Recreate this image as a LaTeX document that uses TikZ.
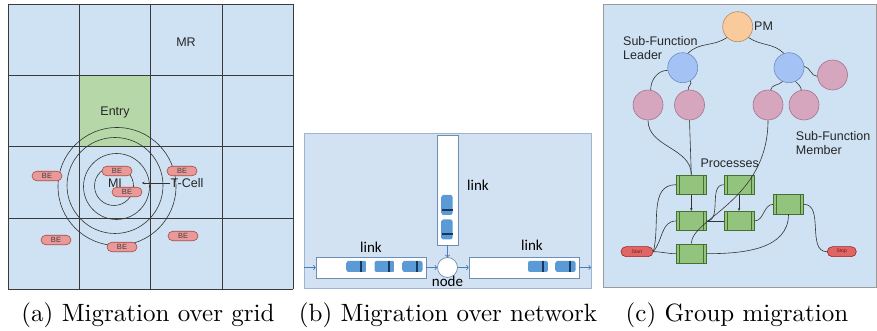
\documentclass[tikz,border=0pt]{standalone}
\usepackage{fontspec}
\usepackage{tikz}
\usetikzlibrary{arrows.meta, positioning}
\newfontfamily\arialfont{Liberation Sans}
\newfontfamily\calibrifont{Carlito}
\newfontfamily\capfont{lmroman10-regular.otf}
\definecolor{cellbg}{HTML}{CFE2F3}
\definecolor{entrygreen}{HTML}{B6D7A8}
\definecolor{gridline}{HTML}{3A3A3A}
\definecolor{befill}{HTML}{EA9999}
\definecolor{bedraw}{HTML}{A84A42}
\definecolor{netbg}{HTML}{D2E2F3}
\definecolor{netedge}{HTML}{9DB5D2}
\definecolor{linkdraw}{HTML}{6E8FB3}
\definecolor{flowblue}{HTML}{4A7EBB}
\definecolor{carblue}{HTML}{5B9BD5}
\definecolor{carlight}{HTML}{D3E3F5}
\definecolor{carnavy}{HTML}{17375E}
\definecolor{groupedge}{HTML}{9A9A9A}
\definecolor{pmfill}{HTML}{F9CB9C}
\definecolor{pmdraw}{HTML}{B88A5C}
\definecolor{leadfill}{HTML}{A4C2F4}
\definecolor{leaddraw}{HTML}{6B8CC4}
\definecolor{memfill}{HTML}{D5A6BD}
\definecolor{memdraw}{HTML}{A37389}
\definecolor{procfill}{HTML}{93C47D}
\definecolor{procdraw}{HTML}{45702F}
\definecolor{termfill}{HTML}{E06666}
\definecolor{termdraw}{HTML}{9E1F1F}

\begin{document}
\begin{tikzpicture}[x=1pt, y=1pt,
  gridln/.style={draw=gridline, line width=0.8pt},
  ring/.style={draw=black!80, line width=0.6pt},
  be/.style={draw=bedraw, fill=befill, rounded corners=4.75pt, minimum width=30pt,
             minimum height=9.5pt, inner sep=0pt, line width=0.6pt,
             font=\arialfont\fontsize{7.5}{8}\selectfont, text=black!75},
  lbl/.style={font=\arialfont\fontsize{12.5}{14}\selectfont, text=black!85, inner sep=0pt},
  blbl/.style={font=\calibrifont\fontsize{15}{17}\selectfont, inner sep=0pt},
  lnk/.style={draw=linkdraw, fill=white, line width=0.7pt, inner sep=0pt},
  flow/.style={draw=flowblue, line width=0.7pt, -{To[length=2.5pt,width=5pt]}},
  hcar/.pic={\shade[rounded corners=2pt, left color=carblue, middle color=carlight, right color=carblue]
               (-10,-5.5) rectangle (10,5.5);
             \fill[carnavy] (3.8,-5.5) rectangle (5.6,5.5);},
  vcar/.pic={\shade[rounded corners=2pt, top color=carblue, middle color=carlight, bottom color=carblue]
               (-5.5,-10) rectangle (5.5,10);
             \fill[carnavy] (-5.5,-3.8) rectangle (5.5,-5.6);},
  bub/.style={circle, minimum size=30pt, inner sep=0pt, line width=0.6pt},
  proc/.style={draw=procdraw, fill=procfill, minimum width=30pt, minimum height=19.5pt,
               inner sep=0pt, line width=0.6pt,
               path picture={\draw[procdraw, line width=0.6pt]
                 ([xshift=3pt]path picture bounding box.north west) -- ([xshift=3pt]path picture bounding box.south west)
                 ([xshift=-3pt]path picture bounding box.north east) -- ([xshift=-3pt]path picture bounding box.south east);}},
  term/.style={draw=termdraw, fill=termfill, rounded corners=5pt, minimum height=10pt,
               inner sep=0pt, line width=0.6pt, font=\arialfont\fontsize{5}{6}\selectfont, text=termdraw!70!black},
  wire/.style={draw=black!80, line width=0.6pt},
  subcap/.style={font=\capfont\fontsize{25}{30}\selectfont, inner sep=0pt, anchor=base}
]
  \fill[white] (0,0) rectangle (877,331);
  \useasboundingbox (0,0) rectangle (877,331);

  % (a) grid with the entry cell and the rings round MI
  \fill[cellbg] (8,41.7) rectangle (293.3,327);
  \fill[entrygreen] (79.3,184.3) rectangle (150.7,255.7);
  \foreach \i in {0,...,4} {
    \draw[gridln] (8+71.33*\i,41.7) -- (8+71.33*\i,327);
    \draw[gridln] (8,41.7+71.33*\i) -- (293.3,41.7+71.33*\i);
  }
  \node[lbl] (mr) at (186,289) {MR};
  \node[lbl] (entry) at (115,218) {Entry};
  \draw[ring] (114,145) circle (19.5);
  \draw[ring] (116.5,144.5) circle (33);
  \draw[ring] (115,145.5) circle (48);
  \draw[ring] (117,144.5) circle (59);
  \node[lbl] (mi) at (115,148) {MI};
  \node[lbl] (tcell) at (187,148) {T-Cell};
  \coordinate (mipt) at (142,148);
  \draw[black!80, line width=0.6pt, -{Stealth[length=2.5pt,width=2.5pt]}] (tcell) -- (mipt);
  \node[be] (be1) at (47,155) {BE};
  \node[be] (be2) at (117,160) {BE};
  \node[be] (be3) at (127,139) {BE};
  \node[be] (be4) at (182,160) {BE};
  \node[be] (be5) at (56,91) {BE};
  \node[be] (be6) at (122,84) {BE};
  \node[be] (be7) at (183,95) {BE};

  % (b) links and one junction
  \filldraw[fill=netbg, draw=netedge, line width=0.7pt] (304,43) rectangle (591,198);
  \node[lnk, minimum width=21pt, minimum height=110pt] (vert) at (447.5,141) {};
  \node[lnk, minimum width=110pt, minimum height=21pt] (left) at (371,63.5) {};
  \node[lnk, minimum width=110pt, minimum height=21pt] (right) at (524,63.5) {};
  \node[lnk, circle, minimum size=20pt] (nd) at (447.5,63.5) {};
  \foreach \cx in {356.5,384.5,412.5,538,565.5}
    \pic at (\cx,64.5) {hcar};
  \foreach \cy in {126,101.5}
    \pic at (447,\cy) {vcar};
  \node[blbl, above=4pt of left] {link};
  \node[blbl] at (532,86) {link};
  \node[blbl] at (478,146) {link};
  \node[blbl, below=-1.5pt of nd] {node};
  \coordinate (bin) at (304,63.5);
  \coordinate (bout) at (591,63.5);
  \draw[flow] (bin) -- (left);
  \draw[flow] (left) -- (nd);
  \draw[flow] (nd) -- (right);
  \draw[flow] (right) -- (bout);
  \draw[flow] (vert) -- (nd);

  % (c) sub-function tree over the processes
  \filldraw[fill=cellbg, draw=groupedge, line width=0.8pt] (603,44) rectangle (876.5,327);
  \node[bub, draw=pmdraw, fill=pmfill] (pm) at (737.7,304.3) {};
  \node[lbl, right=1pt of pm] {PM};
  \node[bub, draw=leaddraw, fill=leadfill] (l1) at (682.7,263.3) {};
  \node[bub, draw=leaddraw, fill=leadfill] (l2) at (789,263.3) {};
  \node[bub, draw=memdraw, fill=memfill] (m1) at (648,226) {};
  \node[bub, draw=memdraw, fill=memfill] (m2) at (689.5,226) {};
  \node[bub, draw=memdraw, fill=memfill] (m3) at (768,226) {};
  \node[bub, draw=memdraw, fill=memfill] (m4) at (804,226) {};
  \node[bub, draw=memdraw, fill=memfill] (m5) at (832.5,256) {};
  \node[lbl, anchor=west, align=left] at (623,282.7) {Sub-Function\\Leader};
  \node[lbl, anchor=west, align=left] at (795.7,187.7) {Sub-Function\\Member};
  \node[lbl] at (729.7,167.7) {Processes};
  \node[proc] (p1) at (691.3,146.3) {};
  \node[proc] (p2) at (739,146.3) {};
  \node[proc] (p3) at (691.3,110) {};
  \node[proc] (p4) at (739,110) {};
  \node[proc] (p5) at (788.5,126.7) {};
  \node[proc] (p6) at (691.3,77.3) {};
  \node[term, minimum width=32pt] (start) at (637,79.3) {Start};
  \node[term, minimum width=29pt] (stop) at (841.8,79.3) {Stop};

  \draw[wire] (pm.225) to[out=215,in=45] (l1.70);
  \draw[wire] (pm.-45) to[out=-35,in=135] (l2.110);
  \draw[wire] (l1.190) to[out=180,in=90] (m1.80);
  \draw[wire] (l1.-60) to[out=-45,in=100] (m2.95);
  \draw[wire] (l2.-115) to[out=-135,in=80] (m3.80);
  \draw[wire] (l2.-65) to[out=-45,in=100] (m4.100);
  \draw[wire] (l2.5) to[out=-10,in=180] (m5.185);
  \draw[wire] (m1.south) to[out=-90,in=90] (p1.north);
  \draw[wire] (m2.south) -- (p1.north);
  \draw[wire] (m3.south) .. controls +(0,-80) and +(0,25) .. (p6.north);
  \draw[wire, -{Stealth[length=3pt,width=2.5pt]}] (p1) -- (p3);
  \draw[wire, -{Stealth[length=3pt,width=2.5pt]}] (p2) -- (p4);
  \draw[wire] (p3) -- (p4);
  \draw[wire] (p2.west) to[out=180,in=0] (p3.east);
  \draw[wire] (p4.east) to[out=0,in=180] (p5.west);
  \draw[wire] (p5.east) to[out=0,in=180] (stop.west);
  \draw[wire] (p5.south) to[out=-90,in=0] (p6.east);
  \draw[wire] (start.east) to[out=75,in=180] (p1.west);
  \draw[wire] (start.east) to[out=50,in=180] (p3.west);
  \draw[wire] (start.east) to[out=0,in=180] (p6.west);

  % sub-captions
  \node[subcap] (capa) at (148,9) {(a) Migration over grid};
  \node[subcap] (capb) at (448,9) {(b) Migration over network};
  \node[subcap] (capc) at (737,9) {(c) Group migration};
\end{tikzpicture}
\end{document}
